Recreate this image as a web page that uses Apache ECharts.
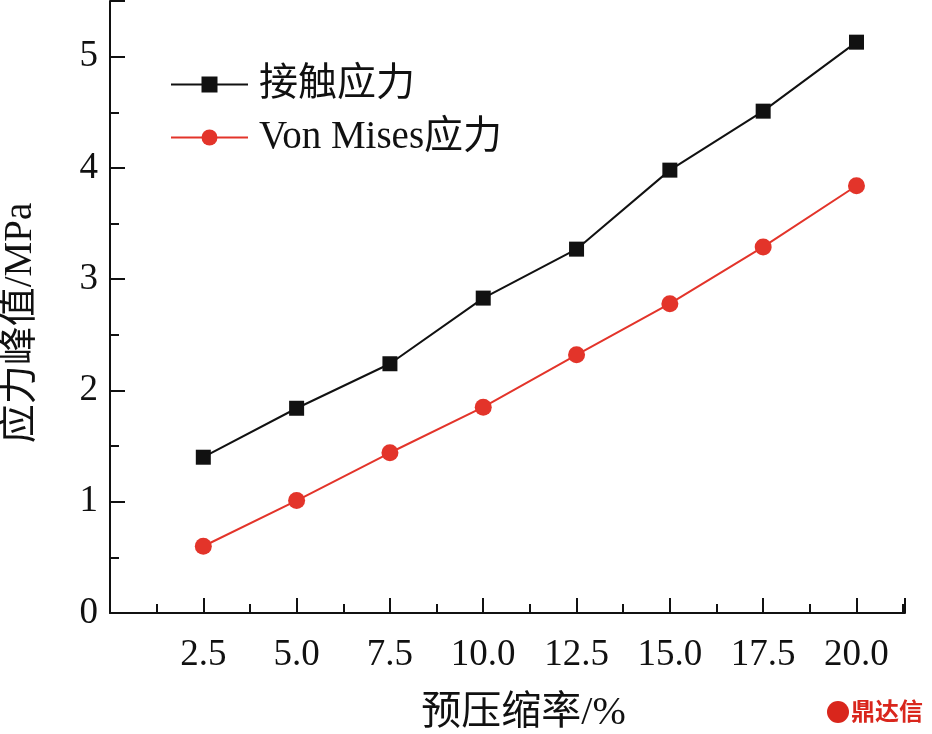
<!DOCTYPE html>
<html>
<head>
<meta charset="utf-8">
<script src="https://cdn.jsdelivr.net/npm/echarts@6/dist/echarts.min.js"></script>
<style>html,body{margin:0;padding:0;background:#fff}#c{width:932px;height:734px}</style>
</head>
<body>
<div id="c"></div>
<script>
const xValues = [2.5, 5.0, 7.5, 10.0, 12.5, 15.0, 17.5, 20.0];
const contactStress = [1.40, 1.84, 2.24, 2.83, 3.27, 3.98, 4.51, 5.13];
const vonMisesStress = [0.60, 1.01, 1.44, 1.85, 2.32, 2.78, 3.29, 3.84];
const seriesNames = ['接触应力', 'Von Mises应力'];
const xAxisName = '预压缩率/%';
const yAxisName = '应力峰值/MPa';
const yTickLabels = ['0', '1', '2', '3', '4', '5'];

const FONT = '"Liberation Serif", "Noto Sans CJK SC", serif';
const chart = echarts.init(document.getElementById('c'));
const pair = (xs, ys) => xs.map((x, i) => [x, ys[i]]);

chart.setOption({
  backgroundColor: '#fff',
  animation: false,
  grid: { left: 110, top: 1, right: 27, bottom: 121, containLabel: false, outerBoundsMode: 'none' },
  legend: {
    orient: 'vertical',
    left: 165,
    top: 60,
    itemWidth: 77,
    itemHeight: 20,
    itemGap: 14,
    textStyle: { fontFamily: FONT, fontSize: 39, color: '#111', padding: [0, 0, 0, 6] },
    data: seriesNames
  },
  xAxis: {
    type: 'value',
    min: 0,
    max: 21.3,
    interval: 2.5,
    name: xAxisName,
    nameLocation: 'middle',
    nameGap: 80,
    nameTextStyle: { fontFamily: FONT, fontSize: 40, color: '#111', padding: [0, 0, 0, 32] },
    axisLine: { lineStyle: { color: '#111', width: 2 } },
    axisTick: { inside: true, length: 15, lineStyle: { color: '#111', width: 2 } },
    minorTick: { show: true, splitNumber: 2, length: 9, lineStyle: { color: '#111', width: 2 } },
    splitLine: { show: false },
    axisLabel: {
      margin: 24,
      fontFamily: FONT, fontSize: 37, color: '#111',
      formatter: v => (v >= 2.5 && v <= 20.01) ? v.toFixed(1) : ''
    }
  },
  yAxis: {
    type: 'value',
    min: 0,
    max: 5.5,
    interval: 1,
    name: yAxisName,
    nameLocation: 'middle',
    nameGap: 70,
    nameTextStyle: { fontFamily: FONT, fontSize: 39, color: '#111', padding: [0, 32, 0, 0] },
    axisLine: { show: true, lineStyle: { color: '#111', width: 2 } },
    axisTick: { inside: true, length: 15, lineStyle: { color: '#111', width: 2 } },
    minorTick: { show: true, splitNumber: 2, length: 9, lineStyle: { color: '#111', width: 2 } },
    splitLine: { show: false },
    axisLabel: {
      margin: 12,
      fontFamily: FONT, fontSize: 37, color: '#111',
      formatter: v => (Number.isInteger(v) && yTickLabels.includes(String(v))) ? String(v) : ''
    }
  },
  series: [
    {
      name: seriesNames[0], type: 'line',
      data: pair(xValues, contactStress),
      symbol: 'rect', symbolSize: 15,
      itemStyle: { color: '#111' },
      lineStyle: { color: '#111', width: 2 }
    },
    {
      name: seriesNames[1], type: 'line',
      data: pair(xValues, vonMisesStress),
      symbol: 'circle', symbolSize: 17,
      itemStyle: { color: '#e3342a' },
      lineStyle: { color: '#e3342a', width: 2 }
    }
  ],
  graphic: [
    { type: 'circle', shape: { cx: 838, cy: 712, r: 11 }, style: { fill: '#d9261c' } },
    { type: 'text', left: 851, top: 699, style: { text: '鼎达信', fill: '#d9261c', font: 'bold 24px "Noto Sans CJK SC", sans-serif' } }
  ]
});
</script>
</body>
</html>
